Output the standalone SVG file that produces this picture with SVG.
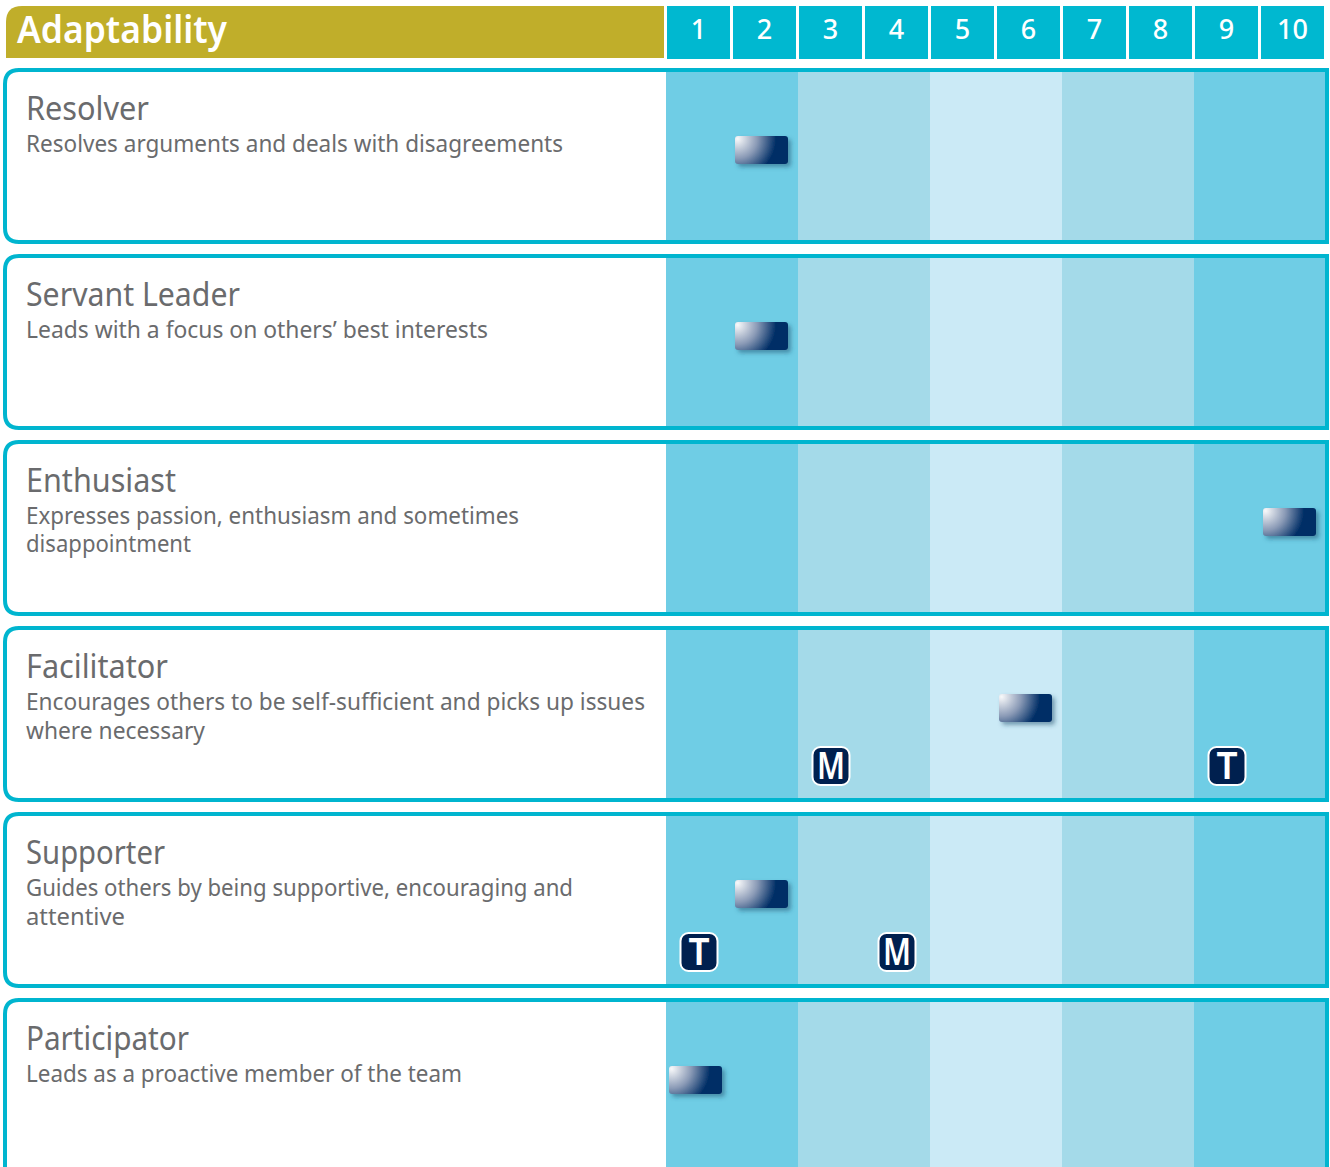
<svg xmlns="http://www.w3.org/2000/svg" width="1330" height="1167" viewBox="0 0 1330 1167">
<style>
text{font-family:"Noto Sans","Liberation Sans",sans-serif}
.h{fill:#00b8d0}
.n{font-size:27px;fill:#fff;text-anchor:middle;font-weight:500}
.t{font-size:32px;fill:#6a6b6d}
.d{font-size:24px;fill:#6a6b6d}
.frame{fill:none;stroke:#00b5cf;stroke-width:4}
.a{fill:#6fcde5}.b{fill:#a4dae9}.c{fill:#cbeaf6}
.m{fill:url(#g);filter:url(#s)}
.bd{fill:#00204f;stroke:#fff;stroke-width:2}
.bt{font-size:37px;font-weight:600;fill:#fff;text-anchor:middle}
</style>
<defs>
<radialGradient id="g" cx="0" cy="0" r="1" gradientTransform="translate(0.05 0.1) scale(0.74 1.4)">
<stop offset="0" stop-color="#f8f9fa"/><stop offset="0.5" stop-color="#8a9ab6"/><stop offset="0.98" stop-color="#002e66"/>
</radialGradient>
<filter id="s" x="-20%" y="-30%" width="150%" height="180%"><feDropShadow dx="3" dy="3" stdDeviation="2" flood-color="#1d4f6e" flood-opacity="0.5"/></filter>
<g id="bands">
<rect class="a" x="666" y="0" width="132" height="168"/><rect class="b" x="798" y="0" width="132" height="168"/><rect class="c" x="930" y="0" width="132" height="168"/><rect class="b" x="1062" y="0" width="132" height="168"/><rect class="a" x="1194" y="0" width="132" height="168"/>
</g>
</defs>
<g id="header">
<path d="M6 58V22Q6 6 22 6H664V58Z" fill="#c0ae2a"/>
<text x="17" y="43" font-weight="600" fill="#fff" style="font-size:38px" textLength="210" lengthAdjust="spacingAndGlyphs">Adaptability</text>
</g>
<g id="scale">
<rect class="h" x="667" y="6" width="63" height="53"/><text class="n" x="698.5" y="39">1</text>
<rect class="h" x="733" y="6" width="63" height="53"/><text class="n" x="764.5" y="39">2</text>
<rect class="h" x="799" y="6" width="63" height="53"/><text class="n" x="830.5" y="39">3</text>
<rect class="h" x="865" y="6" width="63" height="53"/><text class="n" x="896.5" y="39">4</text>
<rect class="h" x="931" y="6" width="63" height="53"/><text class="n" x="962.5" y="39">5</text>
<rect class="h" x="997" y="6" width="63" height="53"/><text class="n" x="1028.5" y="39">6</text>
<rect class="h" x="1063" y="6" width="63" height="53"/><text class="n" x="1094.5" y="39">7</text>
<rect class="h" x="1129" y="6" width="63" height="53"/><text class="n" x="1160.5" y="39">8</text>
<rect class="h" x="1195" y="6" width="63" height="53"/><text class="n" x="1226.5" y="39">9</text>
<rect class="h" x="1261" y="6" width="63" height="53"/><text class="n" x="1292.5" y="39">10</text>
</g>
<g id="resolver">
<use href="#bands" y="72"/>
<path class="frame" d="M1327 70H19Q5 70 5 84V228Q5 242 19 242H1327Z"/>
<text class="t" x="26" y="120" textLength="123" lengthAdjust="spacingAndGlyphs">Resolver</text>
<text class="d" x="26" y="152" textLength="537" lengthAdjust="spacingAndGlyphs">Resolves arguments and deals with disagreements</text>
<rect class="m" x="735" y="136" width="53" height="28" rx="3"/>
</g>
<g id="servant-leader">
<use href="#bands" y="258"/>
<path class="frame" d="M1327 256H19Q5 256 5 270V414Q5 428 19 428H1327Z"/>
<text class="t" x="26" y="306" textLength="214" lengthAdjust="spacingAndGlyphs">Servant Leader</text>
<text class="d" x="26" y="338" textLength="462" lengthAdjust="spacingAndGlyphs">Leads with a focus on others’ best interests</text>
<rect class="m" x="735" y="322" width="53" height="28" rx="3"/>
</g>
<g id="enthusiast">
<use href="#bands" y="444"/>
<path class="frame" d="M1327 442H19Q5 442 5 456V600Q5 614 19 614H1327Z"/>
<text class="t" x="26" y="492" textLength="150" lengthAdjust="spacingAndGlyphs">Enthusiast</text>
<text class="d" x="26" y="524" textLength="493" lengthAdjust="spacingAndGlyphs">Expresses passion, enthusiasm and sometimes</text>
<text class="d" x="26" y="552" textLength="165" lengthAdjust="spacingAndGlyphs">disappointment</text>
<rect class="m" x="1263" y="508" width="53" height="28" rx="3"/>
</g>
<g id="facilitator">
<use href="#bands" y="630"/>
<path class="frame" d="M1327 628H19Q5 628 5 642V786Q5 800 19 800H1327Z"/>
<text class="t" x="26" y="678" textLength="142" lengthAdjust="spacingAndGlyphs">Facilitator</text>
<text class="d" x="26" y="710" textLength="619" lengthAdjust="spacingAndGlyphs">Encourages others to be self-sufficient and picks up issues</text>
<text class="d" x="26" y="739" textLength="179" lengthAdjust="spacingAndGlyphs">where necessary</text>
<rect class="m" x="999" y="694" width="53" height="28" rx="3"/>
<rect class="bd" x="812.5" y="747" width="37" height="38" rx="8"/><text class="bt" x="831" y="779" textLength="28" lengthAdjust="spacingAndGlyphs">M</text>
<rect class="bd" x="1208.5" y="747" width="37" height="38" rx="8"/><text class="bt" x="1227" y="779">T</text>
</g>
<g id="supporter">
<use href="#bands" y="816"/>
<path class="frame" d="M1327 814H19Q5 814 5 828V972Q5 986 19 986H1327Z"/>
<text class="t" x="26" y="864" textLength="139" lengthAdjust="spacingAndGlyphs">Supporter</text>
<text class="d" x="26" y="896" textLength="547" lengthAdjust="spacingAndGlyphs">Guides others by being supportive, encouraging and</text>
<text class="d" x="26" y="925" textLength="99" lengthAdjust="spacingAndGlyphs">attentive</text>
<rect class="m" x="735" y="880" width="53" height="28" rx="3"/>
<rect class="bd" x="680.5" y="933" width="37" height="38" rx="8"/><text class="bt" x="699" y="965">T</text>
<rect class="bd" x="878.5" y="933" width="37" height="38" rx="8"/><text class="bt" x="897" y="965" textLength="28" lengthAdjust="spacingAndGlyphs">M</text>
</g>
<g id="participator">
<use href="#bands" y="1002"/>
<path class="frame" d="M1327 1000H19Q5 1000 5 1014V1172H1327Z"/>
<text class="t" x="26" y="1050" textLength="163" lengthAdjust="spacingAndGlyphs">Participator</text>
<text class="d" x="26" y="1082" textLength="436" lengthAdjust="spacingAndGlyphs">Leads as a proactive member of the team</text>
<rect class="m" x="669" y="1066" width="53" height="28" rx="3"/>
</g>
<g id="connectors"/>
</svg>
